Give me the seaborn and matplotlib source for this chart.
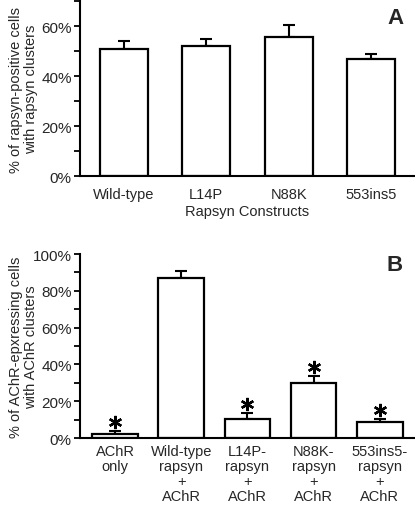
import numpy as np
import pandas as pd
import matplotlib
matplotlib.use("Agg")
import matplotlib.pyplot as plt
import matplotlib.transforms as mtransforms
import seaborn as sns
from matplotlib.ticker import MultipleLocator, FuncFormatter

# --- dados ---
constructs_a = ["Wild-type", "L14P", "N88K", "553ins5"]
values_a = [50.8, 52.0, 55.5, 46.8]
errors_a = [3.1, 3.0, 4.9, 2.0]

constructs_b = ["AChR\nonly", "Wild-type\nrapsyn\n+\nAChR", "L14P-\nrapsyn\n+\nAChR",
                "N88K-\nrapsyn\n+\nAChR", "553ins5-\nrapsyn\n+\nAChR"]
values_b = [2.2, 86.8, 10.2, 29.9, 8.9]
errors_b = [1.4, 3.8, 3.4, 4.0, 1.4]
signif_b = [True, False, True, True, True]

sns.set_theme(style="ticks")
plt.rcParams["font.family"] = ["Liberation Sans", "DejaVu Sans"]
plt.rcParams["font.size"] = 10.5

fig = plt.figure(figsize=(4.15, 5.06), dpi=100)
ax_a = fig.add_axes([0.193, 0.650, 0.805, 0.346])
ax_b = fig.add_axes([0.193, 0.1324, 0.805, 0.3636])

pct = FuncFormatter(lambda v, p: f"{v:.0f}%")


def painel(ax, cats, vals, errs, width, ymax, letra, letra_xy, xpad):
    df = pd.DataFrame({"cat": cats, "val": vals})
    sns.barplot(data=df, x="cat", y="val", ax=ax, color="white", edgecolor="black",
                linewidth=1.6, width=width, errorbar=None, zorder=2)
    x = np.arange(len(cats))
    ax.errorbar(x, vals, yerr=[np.zeros(len(errs)), errs], fmt="none", ecolor="black",
                elinewidth=1.5, capsize=4, capthick=1.5, zorder=1)
    ax.set_ylim(0, ymax)
    ax.set_xlim(-0.53, len(cats) - 0.48)
    ax.yaxis.set_major_locator(MultipleLocator(20))
    ax.yaxis.set_minor_locator(MultipleLocator(10))
    ax.yaxis.set_major_formatter(pct)
    ax.tick_params(axis="y", which="both", length=4, width=1.3, color="black",
                   labelsize=11, pad=2)
    ax.tick_params(axis="x", length=0, labelsize=10.5, pad=xpad)
    for s in ["top", "right"]:
        ax.spines[s].set_visible(False)
    for s in ["left", "bottom"]:
        ax.spines[s].set_linewidth(1.5)
        ax.spines[s].set_color("black")
    ax.text(letra_xy[0], letra_xy[1], letra, transform=ax.transAxes, fontsize=16,
            fontweight="bold", ha="center", va="center")


painel(ax_a, constructs_a, values_a, errors_a, 0.58, 70, "A", (0.945, 0.905), 8)
ax_a.set_xlabel("Rapsyn Constructs", fontsize=10.5, labelpad=2)
ax_a.set_ylabel("% of rapsyn-positive cells\nwith rapsyn clusters", fontsize=10.5,
                linespacing=1.1)
ax_a.yaxis.set_label_coords(-0.125, 0.5)

painel(ax_b, constructs_b, values_b, errors_b, 0.69, 100, "B", (0.94, 0.945), 4)
ax_b.set_xlabel("")
ax_b.set_ylabel("% of AChR-epxressing cells\nwith AChR clusters", fontsize=10.5,
                linespacing=1.1)
ax_b.yaxis.set_label_coords(-0.125, 0.5)
for lab in ax_b.get_xticklabels():
    lab.set_linespacing(1.1)

# asteriscos acima das barras de erro
desloc = ax_b.transData + mtransforms.ScaledTranslation(0, 6.5 / 72, fig.dpi_scale_trans)
for i, (v, e, s) in enumerate(zip(values_b, errors_b, signif_b)):
    if s:
        ax_b.plot([i], [v + e], linestyle="none", marker=(6, 2, 0), markersize=9.5,
                  markeredgewidth=1.7, color="black", transform=desloc)

fig.savefig("out.png", dpi=100)
